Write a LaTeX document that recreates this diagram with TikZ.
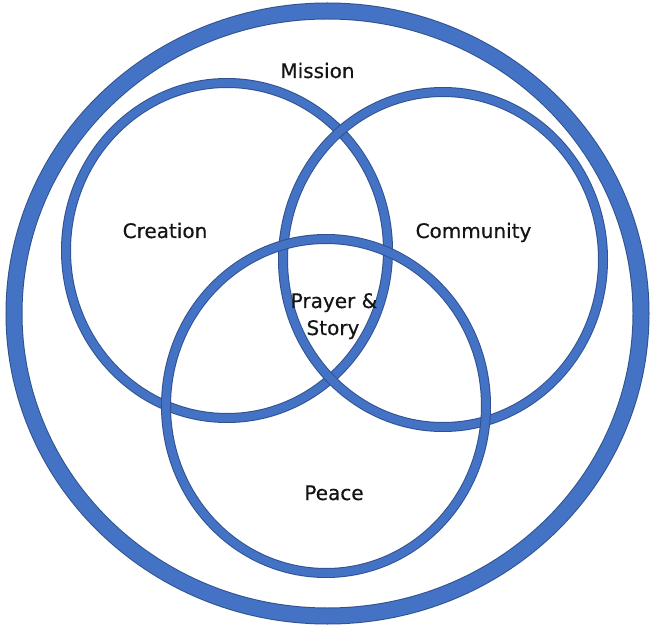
\documentclass[tikz,border=0pt]{standalone}
\usepackage{fontspec}
\setmainfont{DejaVu Sans}
\newfontfamily\lblfont[FakeBold=0.5]{DejaVu Sans}
\definecolor{ringblue}{HTML}{4472C4}
\definecolor{ringedge}{HTML}{2F528F}
\definecolor{txt}{HTML}{141414}
\begin{document}
\begin{tikzpicture}[x=1pt,y=-1pt,
  edgeline/.style={draw=ringedge, line width=#1},
  fillline/.style={draw=ringblue, line width=#1},
  lbl/.style={anchor=base, inner sep=0pt, text=txt, font=\lblfont\fontsize{20}{24}\selectfont}]
\useasboundingbox (0,0) rectangle (651,631);
\fill[white] (0,0) rectangle (651,631);
% centres
\coordinate (cOuter) at (327.5,313.5);
\coordinate (cCre) at (227,250.5);
\coordinate (cCom) at (443,259.5);
\coordinate (cPea) at (326,406);
% outer ring
\draw[edgeline=17pt] (cOuter) ellipse [x radius=313.5pt, y radius=302.5pt];
\draw[fillline=15pt] (cOuter) ellipse [x radius=313.5pt, y radius=302.5pt];
% Creation
\draw[edgeline=10pt] (cCre) ellipse [x radius=161pt, y radius=167.5pt];
\draw[fillline=8pt] (cCre) ellipse [x radius=161pt, y radius=167.5pt];
% Community
\draw[edgeline=10pt] (cCom) ellipse [x radius=160pt, y radius=167.5pt];
\draw[fillline=8pt] (cCom) ellipse [x radius=160pt, y radius=167.5pt];
% Peace
\draw[edgeline=10pt] (cPea) ellipse [x radius=160pt, y radius=167pt];
\draw[fillline=8pt] (cPea) ellipse [x radius=160pt, y radius=167pt];
% labels
\node[lbl] (mission) at (317.5,78) {Mission};
\node[lbl] (creation) at (165,238) {Creation};
\node[lbl] (community) at (473.5,238) {Community};
\node[lbl] (prayer) at (334,308) {Prayer \&};
\node[lbl] (story) at (333,335) {Story};
\node[lbl] (peace) at (334,500) {Peace};
\end{tikzpicture}
\end{document}
